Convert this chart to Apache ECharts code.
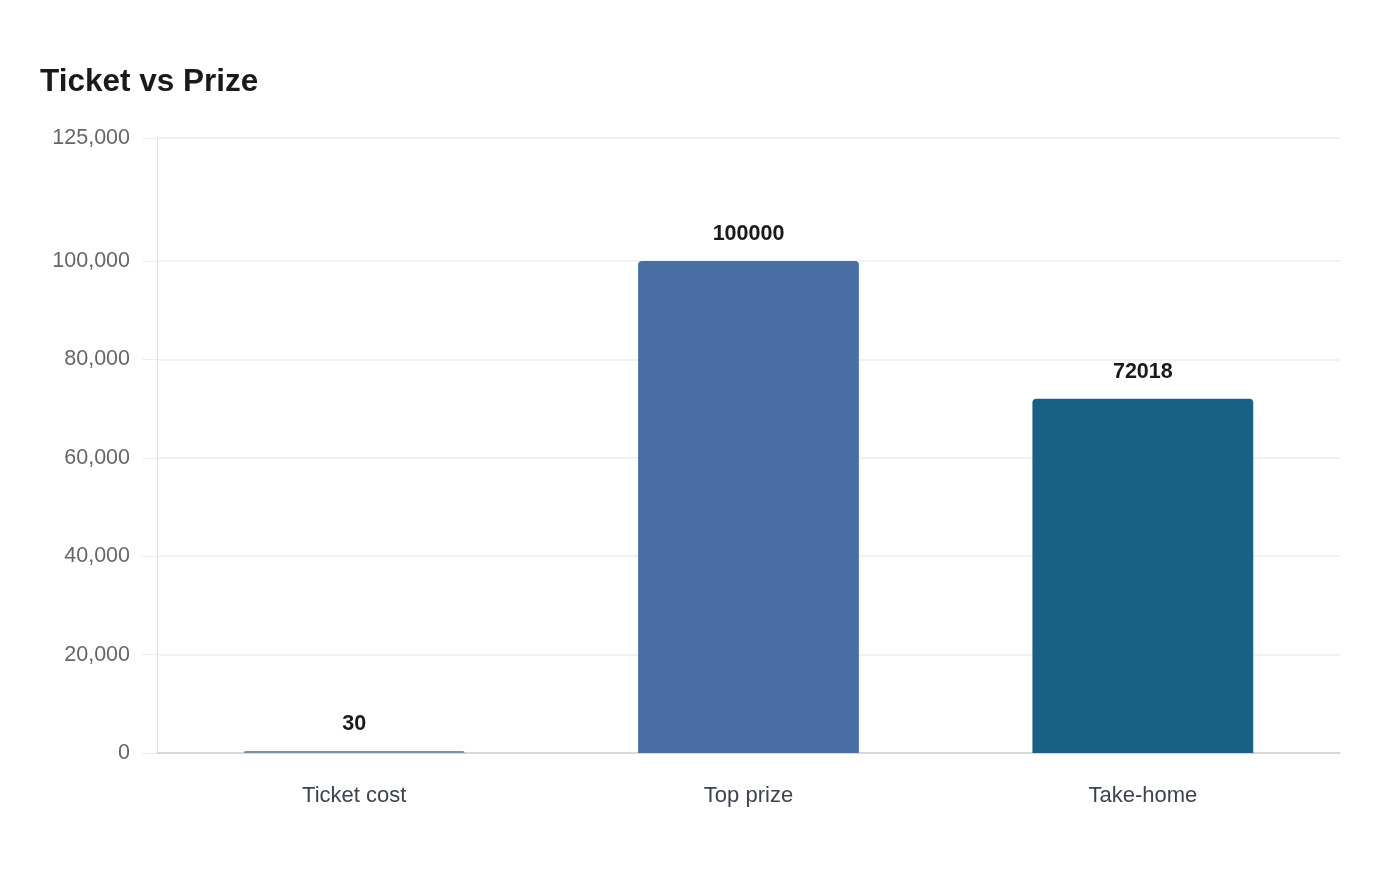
<!DOCTYPE html>
<html>
<head>
<meta charset="utf-8">
<script src="https://cdn.jsdelivr.net/npm/echarts@6/dist/echarts.min.js"></script>
<style>
  html, body { margin: 0; padding: 0; background: #fff; }
  #main { width: 1400px; height: 880px; }
</style>
</head>
<body>
<div id="main"></div>
<script>
// chart data
var categories = ['Ticket cost', 'Top prize', 'Take-home'];
var values = [30, 100000, 72018];
var barColors = ['#7f8fa4', '#4a6fa5', '#186185'];
var yTicks = [0, 20000, 40000, 60000, 80000, 100000, 125000];

var chart = echarts.init(document.getElementById('main'));

var option = {
  backgroundColor: '#fff',
  title: {
    text: 'Ticket vs Prize',
    left: 35,
    top: 61,
    textStyle: {
      fontFamily: 'Liberation Sans',
      fontSize: 31.5,
      fontWeight: 'bold',
      color: '#1a1a1a'
    }
  },
  grid: {
    left: 157,
    right: 60,
    top: 138,
    bottom: 127
  },
  xAxis: {
    type: 'category',
    data: categories,
    axisLine: { lineStyle: { color: '#d0d0d0', width: 1.5 } },
    axisTick: { show: false },
    axisLabel: {
      margin: 32,
      fontFamily: 'Liberation Sans',
      fontSize: 22,
      color: '#3d4450'
    }
  },
  yAxis: {
    type: 'value',
    min: 0,
    max: 125000,
    axisLine: { show: true, lineStyle: { color: '#e0e0e0' } },
    axisTick: { show: true, length: 15, customValues: yTicks, lineStyle: { color: '#ececec' } },
    splitLine: { lineStyle: { color: '#ececec', width: 1.5 } },
    axisLabel: {
      margin: 27,
      customValues: yTicks,
      padding: [4, 0, 0, 0],
      fontFamily: 'Liberation Sans',
      fontSize: 21.5,
      color: '#666',
      formatter: function (v) { return v.toLocaleString('en-US'); }
    }
  },
  series: [{
    type: 'bar',
    barWidth: '56%',
    barMinHeight: 2,
    data: values.map(function (v, i) {
      return { value: v, itemStyle: { color: barColors[i] } };
    }),
    itemStyle: { borderRadius: [4, 4, 0, 0] },
    label: {
      show: true,
      position: 'top',
      distance: 16,
      fontFamily: 'Liberation Sans',
      fontSize: 21.5,
      fontWeight: 'bold',
      color: '#1a1a1a'
    }
  }]
};

chart.setOption(option);
</script>
</body>
</html>
